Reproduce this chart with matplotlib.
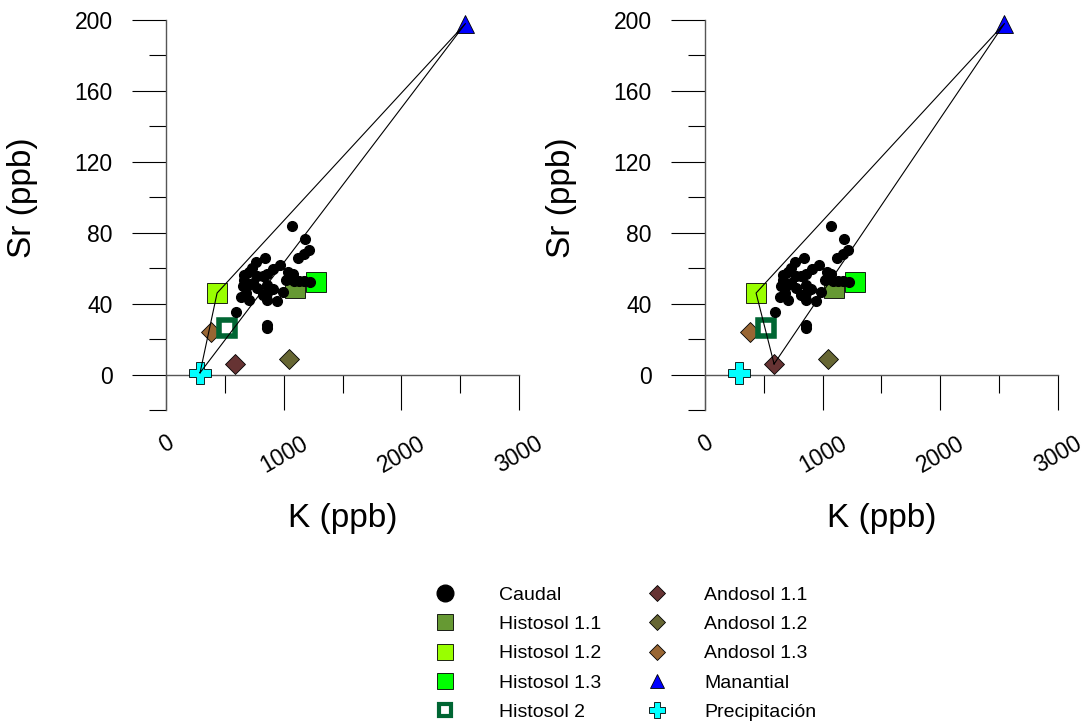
import numpy as np
import matplotlib.pyplot as plt
from matplotlib.lines import Line2D
from matplotlib.ticker import MultipleLocator

plt.rcParams['font.family'] = ['Liberation Sans', 'DejaVu Sans']

# caudal (stream) samples, K and Sr in ppb
caudal_k = [1070, 1183, 1217, 1174, 1118, 843, 763, 970, 913, 706, 862, 1075,
            777, 820, 664, 1019, 1089, 1174, 735, 862, 650, 777, 678, 862,
            990, 636, 706, 862, 947, 593, 862, 858, 732, 664, 905, 820, 1130,
            1225, 1040, 690]
caudal_sr = [84, 76.6, 70, 68, 65.7, 65.7, 63.5, 62, 59.7, 57.8, 57, 56.7,
             55.4, 55.4, 53.5, 53.5, 52.6, 52.6, 51.6, 50.7, 49.7, 48.8, 46, 46,
             46.5, 44, 42, 42, 41.3, 35.3, 28, 26, 60, 56, 48, 45, 53,
             52, 58, 50]

# end members
em_names = ['Histosol 1.1', 'Histosol 1.2', 'Histosol 1.3', 'Histosol 2',
            'Andosol 1.1', 'Andosol 1.2', 'Andosol 1.3', 'Manantial',
            'Precipitación']
em_k = [1098, 434, 1277, 519, 587, 1047, 383, 2545, 289]
em_sr = [49, 46, 52, 26, 6, 9, 24, 198, 1]

# mixing triangles for each panel
tri_left = ['Precipitación', 'Histosol 1.2', 'Manantial']
tri_right = ['Andosol 1.1', 'Histosol 1.2', 'Manantial']

# marker styles: marker, face, edge, size, edge width
styles = {
    'Histosol 1.1': ('s', '#669933', 'black', 15, 0.6),
    'Histosol 1.2': ('s', '#99ff00', 'black', 15, 0.6),
    'Histosol 1.3': ('s', '#00ff00', 'black', 15, 0.6),
    'Histosol 2': ('s', 'white', '#006633', 11.5, 4),
    'Andosol 1.1': ('D', '#663333', 'black', 10.5, 0.6),
    'Andosol 1.2': ('D', '#666633', 'black', 10.5, 0.6),
    'Andosol 1.3': ('D', '#996633', 'black', 10.5, 0.6),
    'Manantial': ('^', '#0000ff', 'black', 13, 0.6),
    'Precipitación': ('P', '#00ffff', 'black', 16, 0.6),
}
order = ['Andosol 1.3', 'Histosol 1.1', 'Histosol 1.3', 'Histosol 1.2',
         'Histosol 2', 'Andosol 1.1', 'Andosol 1.2', 'Manantial',
         'Precipitación']

fig = plt.figure(figsize=(10.88, 7.22), dpi=100)
ax1 = fig.add_axes([0.1526, 0.4321, 0.3244, 0.5402])
ax2 = fig.add_axes([0.6480, 0.4321, 0.3244, 0.5402])


def draw(ax, tri):
    for name in order:
        i = em_names.index(name)
        m, fc, ec, ms, mew = styles[name]
        ax.plot(em_k[i], em_sr[i], marker=m, mfc=fc, mec=ec, ms=ms, mew=mew,
                ls='none', zorder=3, clip_on=False)
    ax.plot(caudal_k, caudal_sr, 'o', color='black', ms=7, zorder=4)
    idx = [em_names.index(n) for n in tri] + [em_names.index(tri[0])]
    ax.plot([em_k[i] for i in idx], [em_sr[i] for i in idx],
            color='black', lw=0.8, zorder=5)

    ax.set_xlim(0, 3000)
    ax.set_ylim(-20, 200)
    ax.spines['top'].set_visible(False)
    ax.spines['right'].set_visible(False)
    ax.spines['bottom'].set_position(('data', 0))
    for s in ('left', 'bottom'):
        ax.spines[s].set_color('#555555')
        ax.spines[s].set_linewidth(1.0)
    ax.xaxis.set_major_locator(MultipleLocator(1000))
    ax.xaxis.set_minor_locator(MultipleLocator(500))
    ax.yaxis.set_major_locator(MultipleLocator(40))
    ax.yaxis.set_minor_locator(MultipleLocator(20))
    ax.tick_params(axis='x', which='major', direction='out', length=25,
                   width=0.8, pad=16, labelsize=16.5, labelrotation=30)
    ax.tick_params(axis='x', which='minor', direction='out', length=13,
                   width=0.8)
    ax.tick_params(axis='y', which='major', direction='out', length=24.5,
                   width=0.8, pad=14, labelsize=16.5)
    ax.tick_params(axis='y', which='minor', direction='out', length=12,
                   width=0.8)
    for lab in ax.get_xticklabels():
        lab.set_ha('center')
    ax.set_xlabel('K (ppb)', fontsize=24)
    ax.set_ylabel('Sr (ppb)', fontsize=24)
    ax.xaxis.set_label_coords(0.5, -0.238)
    ax.yaxis.set_label_coords(-0.363, 0.545)


draw(ax1, tri_left)
draw(ax2, tri_right)

# legend, two columns placed separately
leg_names = ['Caudal', 'Histosol 1.1', 'Histosol 1.2', 'Histosol 1.3',
             'Histosol 2', 'Andosol 1.1', 'Andosol 1.2', 'Andosol 1.3',
             'Manantial', 'Precipitación']
handles = [Line2D([], [], marker='o', color='black', ls='none', ms=12)]
for name in leg_names[1:]:
    m, fc, ec, ms, mew = styles[name]
    if name == 'Histosol 2':
        ms, mew = 8.5, 3
    elif m == 's':
        ms = 11
    elif m == 'D':
        ms = 8
    elif m == '^':
        ms = 10.5
    elif m == 'P':
        ms = 11
    handles.append(Line2D([], [], marker=m, mfc=fc, mec=ec, ms=ms, mew=mew,
                          ls='none'))

fs = 14
common = dict(loc='upper left', frameon=False, fontsize=fs, handlelength=2,
              labelspacing=0.6, borderpad=0, borderaxespad=0)
# col 1: marker centre x=445, text x=499
leg1 = fig.legend(handles[:5], leg_names[:5], handletextpad=(499 - 445) / 19.44 - 1,
                  bbox_to_anchor=((445 - 19.44) / 1088, 0.188), **common)
# col 2: marker centre x=657, text x=704
leg2 = fig.legend(handles[5:], leg_names[5:], handletextpad=(704 - 657) / 19.44 - 1,
                  bbox_to_anchor=((657 - 19.44) / 1088, 0.188), **common)

fig.savefig('out.png', dpi=100)
